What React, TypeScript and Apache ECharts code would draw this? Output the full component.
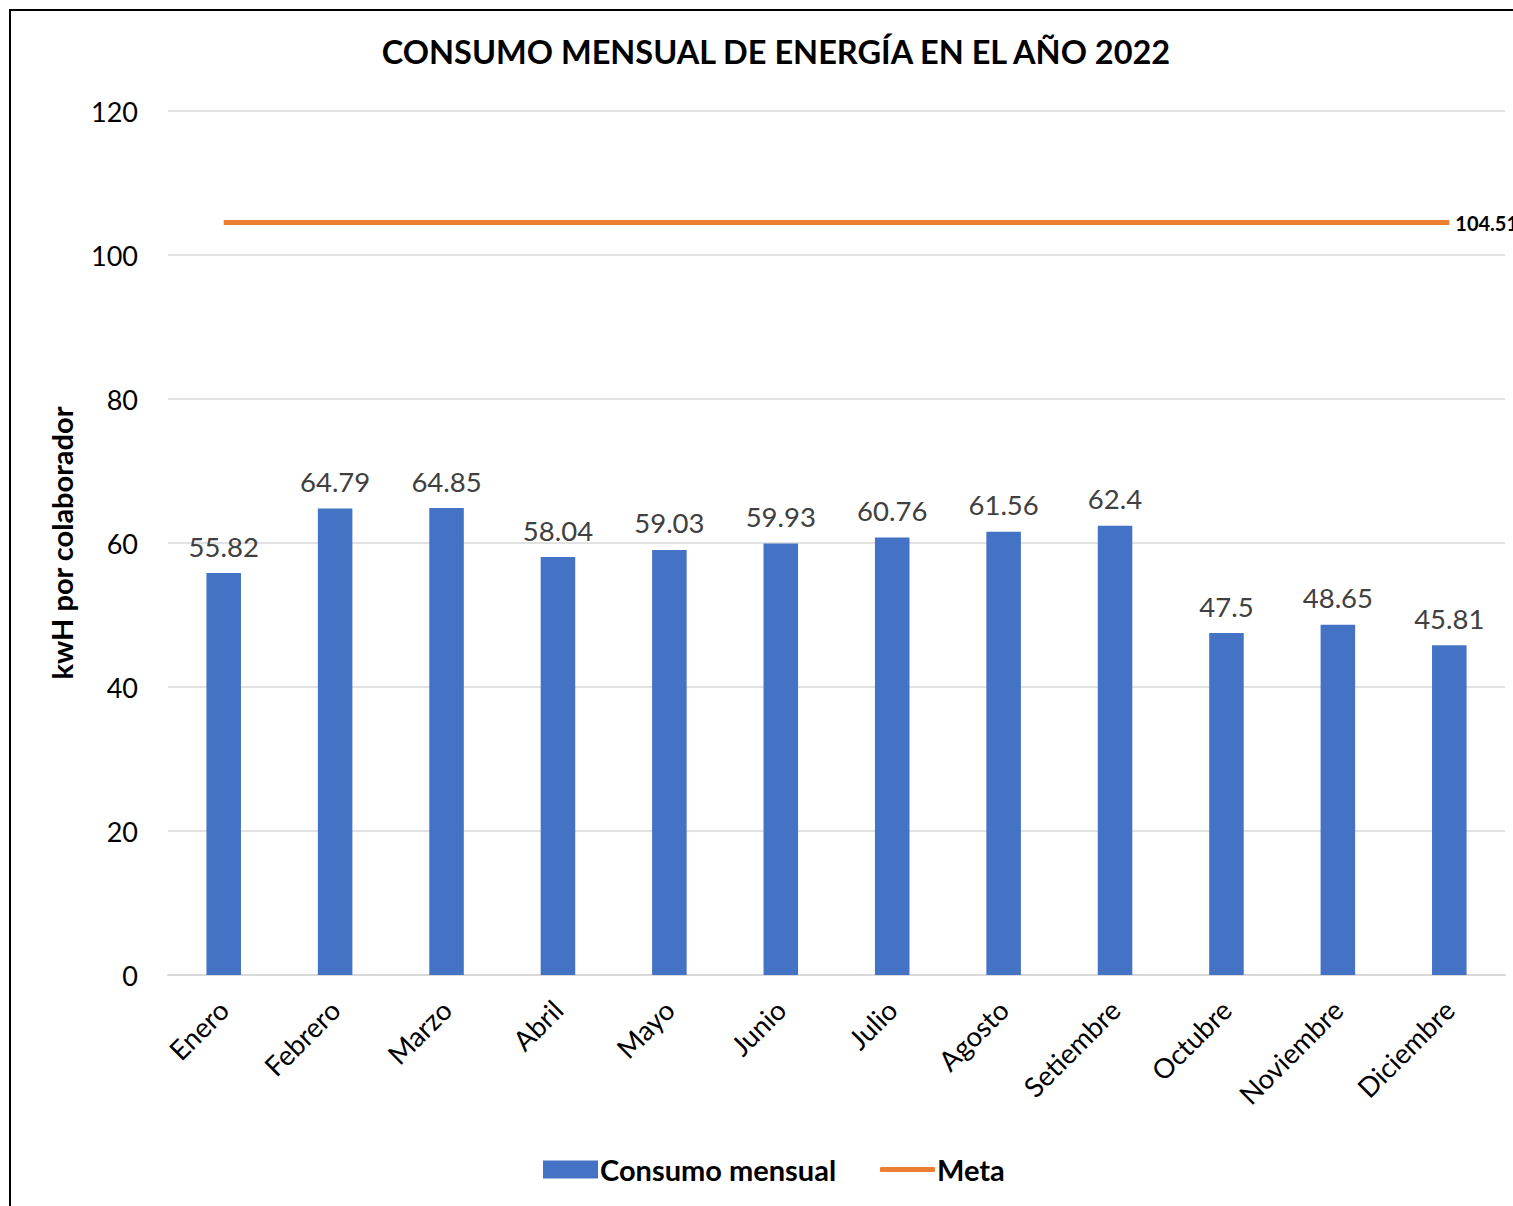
import React, { useEffect, useRef } from "react";
import * as echarts from "echarts";

const categories = ["Enero", "Febrero", "Marzo", "Abril", "Mayo", "Junio", "Julio", "Agosto", "Setiembre", "Octubre", "Noviembre", "Diciembre"];
const consumo = [55.82, 64.79, 64.85, 58.04, 59.03, 59.93, 60.76, 61.56, 62.4, 47.5, 48.65, 45.81];
const meta = [104.51, 104.51, 104.51, 104.51, 104.51, 104.51, 104.51, 104.51, 104.51, 104.51, 104.51, 104.51];
const yTicks = { min: 0, max: 120, interval: 20 };

const FONT = "Lato, 'Noto Sans', sans-serif";

export default function App() {
  const ref = useRef<HTMLDivElement>(null);
  useEffect(() => {
    document.body.style.margin = "0";
    const chart = echarts.init(ref.current!, null, { renderer: "svg" });
    const legendText = { fontFamily: FONT, fontSize: 29, fontWeight: "bold", color: "#000", padding: [0, 0, 0, -3] };
    chart.setOption({
      animation: false,
      backgroundColor: "#ffffff",
      textStyle: { fontFamily: FONT },
      title: {
        text: "CONSUMO MENSUAL DE ENERGÍA EN EL AÑO 2022",
        left: 771,
        textAlign: "center",
        top: 30,
        textStyle: { fontFamily: FONT, fontSize: 32.5, fontWeight: "bold", color: "#000" },
      },
      graphic: [
        {
          type: "rect",
          shape: { x: 10, y: 10, width: 1530, height: 1230 },
          style: { fill: "none", stroke: "#000", lineWidth: 2 },
          silent: true,
        },
      ],
      legend: [
        {
          top: 1150,
          left: 538,
          itemWidth: 55,
          itemHeight: 18,
          textStyle: legendText,
          data: [{ name: "Consumo mensual", icon: "rect" }],
        },
        {
          top: 1150,
          left: 875,
          itemWidth: 55,
          itemHeight: 5,
          textStyle: legendText,
          data: [{ name: "Meta", icon: "roundRect" }],
        },
      ],
      grid: { left: 168, right: 8, top: 111, bottom: 231, containLabel: false },
      xAxis: {
        type: "category",
        data: categories,
        axisTick: { show: false },
        axisLine: { lineStyle: { color: "#d9d9d9", width: 2 } },
        axisLabel: {
          rotate: 45,
          fontFamily: FONT,
          fontSize: 27.5,
          color: "#000",
          margin: 30,
          interval: 0,
        },
      },
      yAxis: {
        type: "value",
        min: yTicks.min,
        max: yTicks.max,
        interval: yTicks.interval,
        name: "kwH por colaborador",
        nameLocation: "middle",
        nameGap: 92,
        nameTextStyle: { fontFamily: FONT, fontSize: 29, fontWeight: "bold", color: "#000" },
        axisLine: { show: false },
        axisTick: { show: false },
        axisLabel: { fontFamily: FONT, fontSize: 27, color: "#000", margin: 30 },
        splitLine: { lineStyle: { color: "#d9d9d9", width: 1.5 } },
      },
      series: [
        {
          name: "Consumo mensual",
          type: "bar",
          data: consumo,
          barWidth: "31%",
          itemStyle: { color: "#4472C4" },
          label: {
            show: true,
            position: "top",
            distance: 13,
            fontFamily: FONT,
            fontSize: 27.5,
            color: "#404040",
          },
        },
        {
          name: "Meta",
          type: "line",
          data: meta,
          symbol: "none",
          lineStyle: { color: "#ED7D31", width: 5 },
          itemStyle: { color: "#ED7D31" },
          endLabel: {
            show: true,
            distance: 6,
            fontFamily: FONT,
            fontSize: 20,
            fontWeight: "bold",
            color: "#000",
            formatter: "{c}",
          },
        },
      ],
    });
    return () => chart.dispose();
  }, []);
  return <div ref={ref} style={{ width: 1513, height: 1206 }} />;
}
